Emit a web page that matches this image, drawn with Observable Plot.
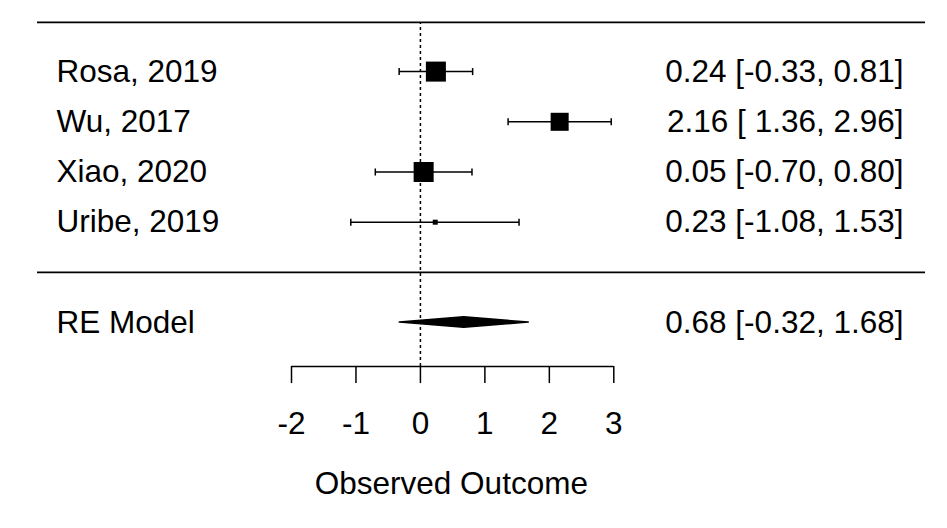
<!DOCTYPE html>
<html>
<head>
<meta charset="utf-8">
<script src="https://cdn.jsdelivr.net/npm/d3@7"></script>
<script src="https://cdn.jsdelivr.net/npm/@observablehq/plot@0.6"></script>
<style>
  html, body { margin: 0; padding: 0; background: white; }
</style>
</head>
<body>
<div id="chart"></div>
<script>
// ---- data ----
const studies = ["Rosa, 2019", "Wu, 2017", "Xiao, 2020", "Uribe, 2019"];
const estimates = [0.24, 2.16, 0.05, 0.23];
const ciLower = [-0.33, 1.36, -0.70, -1.08];
const ciUpper = [0.81, 2.96, 0.80, 1.53];
const relWeights = [1.0, 0.9, 1.0, 0.25];
const ciLabels = ["0.24 [-0.33, 0.81]", "2.16 [ 1.36, 2.96]", "0.05 [-0.70, 0.80]", "0.23 [-1.08, 1.53]"];
const modelLabel = "RE Model";
const modelEstimate = 0.68;
const modelLower = -0.32;
const modelUpper = 1.68;
const modelCiLabel = "0.68 [-0.32, 1.68]";
const tickValues = [-2, -1, 0, 1, 2, 3];
const tickLabels = ["-2", "-1", "0", "1", "2", "3"];
const axisTitle = "Observed Outcome";

// ---- layout ----
const W = 947, H = 528;
const unitX = 64.46, xAtMinus2 = 291;
const xmin = -2 - xAtMinus2 / unitX, xmax = xmin + W / unitX;
const unitY = 50.2, yRow1Px = 221.7;
const ymax = 1 + yRow1Px / unitY, ymin = ymax - H / unitY;
const px2x = p => xmin + p / unitX;

const k = studies.length;
const rows = studies.map((s, i) => ({
  label: s, est: estimates[i], lo: ciLower[i], hi: ciUpper[i],
  w: relWeights[i], ci: ciLabels[i], y: k - i
}));
const modelY = -1;
const axisY = -1.875;
const topY = 5 - 0.02;
const capH = 0.07;
const diaH = 0.105;

const diamond = [
  {x: modelLower, y1: modelY, y2: modelY},
  {x: modelEstimate, y1: modelY - diaH, y2: modelY + diaH},
  {x: modelUpper, y1: modelY, y2: modelY}
];

const leftX = px2x(56), rightX = px2x(903);

const chart = Plot.plot({
  width: W, height: H,
  marginTop: 0, marginBottom: 0, marginLeft: 0, marginRight: 0,
  x: {domain: [xmin, xmax], axis: null},
  y: {domain: [ymin, ymax], axis: null},
  r: {type: "linear", domain: [0, 1], range: [0, 11.3]},
  style: {fontFamily: "'Liberation Sans', Arial, sans-serif", fontSize: "31.5px", background: "white", color: "black"},
  marks: [
    // horizontal separators
    Plot.ruleY([topY], {x1: px2x(37), x2: px2x(925), stroke: "black", strokeWidth: 1.8}),
    Plot.ruleY([0], {x1: px2x(37), x2: px2x(925), stroke: "black", strokeWidth: 1.8}),
    // reference line
    Plot.ruleX([0], {y1: axisY, y2: topY, stroke: "black", strokeWidth: 1.5, strokeDasharray: "3,3"}),
    // CI whiskers
    Plot.link(rows, {x1: "lo", x2: "hi", y1: "y", y2: "y", stroke: "black", strokeWidth: 1.5}),
    Plot.link(rows, {x1: "lo", x2: "lo", y1: d => d.y - capH, y2: d => d.y + capH, stroke: "black", strokeWidth: 1.5}),
    Plot.link(rows, {x1: "hi", x2: "hi", y1: d => d.y - capH, y2: d => d.y + capH, stroke: "black", strokeWidth: 1.5}),
    // boxes
    Plot.dot(rows, {x: "est", y: "y", r: "w", symbol: "square", fill: "black", stroke: null}),
    // RE diamond
    Plot.areaY(diamond, {x: "x", y1: "y1", y2: "y2", fill: "black", stroke: "black", strokeWidth: 1.5}),
    // labels
    Plot.text(rows, {x: leftX, y: "y", text: "label", textAnchor: "start", fill: "black"}),
    Plot.text(rows, {x: rightX, y: "y", text: "ci", textAnchor: "end", fill: "black"}),
    Plot.text([modelLabel], {x: leftX, y: modelY, text: d => d, textAnchor: "start", fill: "black"}),
    Plot.text([modelCiLabel], {x: rightX, y: modelY, text: d => d, textAnchor: "end", fill: "black"}),
    // x axis
    Plot.ruleY([axisY], {x1: tickValues[0], x2: tickValues[tickValues.length - 1], stroke: "black", strokeWidth: 1.5}),
    Plot.ruleX(tickValues, {y1: axisY, y2: axisY - 0.34, stroke: "black", strokeWidth: 1.5}),
    Plot.text(tickValues, {x: d => d, y: -3.01, text: (d, i) => tickLabels[i], fill: "black"}),
    Plot.text([axisTitle], {x: 0.48, y: -4.21, text: d => d, fill: "black"})
  ]
});
document.getElementById("chart").appendChild(chart);
</script>
</body>
</html>
